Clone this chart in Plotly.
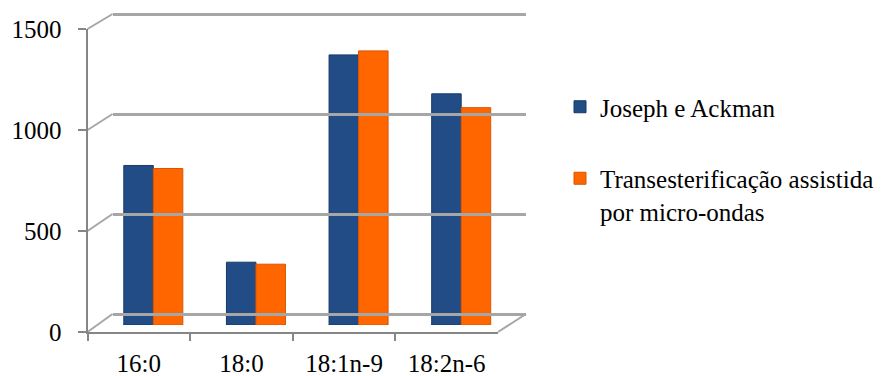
import plotly.graph_objects as go

categories = ["16:0", "18:0", "18:1n-9", "18:2n-6"]
joseph_ackman = [795, 313, 1346, 1152]
micro_ondas = [780, 303, 1366, 1083]
series_names = ["Joseph e Ackman", "Transesterificação assistida<br>por micro-ondas"]
y_ticks = [0, 500, 1000, 1500]

W, H = 892, 376
YMAX = 1500
FONT = "Liberation Serif"
AX_COLOR = "#868686"
GRID_COLOR = "#A6A6A6"


def px_x(p):
    return p / W


def px_y(p):
    return (H - p) / H


# front (axis) plane, bar plane (mid depth), back wall plane
front_x = [px_x(87.5), px_x(498)]
front_y = [px_y(332), px_y(29)]
bar_x = [px_x(102), px_x(512.5)]
bar_y = [px_y(325), px_y(24)]
back_x = [px_x(112.5), px_x(526)]
back_y = [px_y(314), px_y(14)]


def fy(v):
    return front_y[0] + v / YMAX * (front_y[1] - front_y[0])


def by(v):
    return back_y[0] + v / YMAX * (back_y[1] - back_y[0])


BACK_TOP = 1520
back_y_dom = [back_y[0], by(BACK_TOP)]

fig = go.Figure()
fig.add_trace(go.Bar(
    x=categories, y=joseph_ackman, name=series_names[0],
    marker=dict(color="#224C86", line=dict(color="#173A68", width=1)),
    xaxis="x2", yaxis="y2", legendgroup="a",
))
fig.add_trace(go.Bar(
    x=categories, y=micro_ondas, name=series_names[1],
    marker=dict(color="#FF6600", line=dict(color="#D95400", width=1)),
    xaxis="x2", yaxis="y2", legendgroup="b",
))
# invisible traces that switch on the front axes and the back-wall axes
fig.add_trace(go.Scatter(x=categories, y=[0] * len(categories), xaxis="x", yaxis="y",
                         mode="markers", marker=dict(opacity=0), showlegend=False,
                         hoverinfo="skip"))
fig.add_trace(go.Scatter(x=[0, 1], y=[0, 0], xaxis="x3", yaxis="y3",
                         mode="markers", marker=dict(opacity=0), showlegend=False,
                         hoverinfo="skip"))

# depth lines of the 3-D frame (left wall gridlines and right floor edge)
shapes = []
for v in y_ticks:
    shapes.append(dict(type="line", xref="paper", yref="paper",
                       x0=front_x[0], y0=fy(v), x1=back_x[0], y1=by(v),
                       line=dict(color=GRID_COLOR, width=2), layer="below"))
shapes.append(dict(type="line", xref="paper", yref="paper",
                   x0=front_x[1], y0=fy(0), x1=back_x[1], y1=by(0),
                   line=dict(color=GRID_COLOR, width=2), layer="below"))

fig.update_layout(
    width=W, height=H,
    autosize=False,
    margin=dict(l=0, r=0, t=0, b=0, pad=0, autoexpand=False),
    paper_bgcolor="white", plot_bgcolor="rgba(0,0,0,0)",
    font=dict(family=FONT, size=25, color="black"),
    barmode="group", bargap=0.425, bargroupgap=0,
    showlegend=True,
    legend=dict(x=px_x(560), y=px_y(84), xanchor="left", yanchor="top",
                valign="top", tracegroupgap=36,
                font=dict(family=FONT, size=25, color="black"),
                bgcolor="rgba(0,0,0,0)"),
    xaxis=dict(domain=front_x, type="category", categoryorder="array",
               categoryarray=categories, range=[-0.5, 3.5], automargin=False,
               showline=True, linecolor=AX_COLOR, linewidth=2,
               ticks="outside", ticklen=7, tickcolor=AX_COLOR, tickwidth=2,
               tickson="boundaries", showgrid=False, zeroline=False,
               ticklabelstandoff=8, anchor="y", fixedrange=True),
    yaxis=dict(domain=front_y, range=[0, YMAX], tickvals=y_ticks, automargin=False,
               showline=True, linecolor=AX_COLOR, linewidth=2,
               ticks="outside", ticklen=8, tickcolor=AX_COLOR, tickwidth=2,
               showgrid=False, zeroline=False, ticklabelstandoff=11,
               anchor="x", fixedrange=True),
    xaxis2=dict(domain=bar_x, type="category", categoryorder="array",
                categoryarray=categories, range=[-0.5, 3.5],
                visible=False, anchor="y2"),
    yaxis2=dict(domain=bar_y, range=[0, YMAX], visible=False, anchor="x2"),
    xaxis3=dict(domain=back_x, range=[0, 1], visible=False, anchor="y3"),
    yaxis3=dict(domain=back_y_dom, range=[0, BACK_TOP], tickvals=y_ticks,
                showgrid=True, gridcolor=GRID_COLOR, gridwidth=2.5,
                zeroline=True, zerolinecolor=GRID_COLOR, zerolinewidth=2.5,
                showticklabels=False, ticks="", showline=False, anchor="x3"),
    shapes=shapes,
)

fig.write_html("out.html")
